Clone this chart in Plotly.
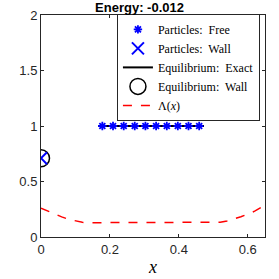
import plotly.graph_objects as go

free_x = [0.178, 0.209, 0.240, 0.272, 0.303, 0.334, 0.365, 0.397, 0.428, 0.459]
free_y = [1, 1, 1, 1, 1, 1, 1, 1, 1, 1]
wall_x = [0.0]
wall_y = [0.71]
eq_x = [0.166, 0.473]
eq_y = [1.0, 1.0]
lam_x = [0, 0.02, 0.04, 0.06, 0.08, 0.10, 0.12, 0.14, 0.20, 0.30, 0.40, 0.50,
         0.52, 0.54, 0.56, 0.58, 0.60, 0.62, 0.64, 0.65]
lam_y = [0.26, 0.232, 0.205, 0.181, 0.160, 0.143, 0.132, 0.129, 0.129, 0.129, 0.129, 0.129,
         0.133, 0.145, 0.162, 0.183, 0.206, 0.233, 0.268, 0.288]
title_text = "Energy: -0.012"

SERIF = "Liberation Serif"
SANS = "Liberation Sans"

fig = go.Figure()
fig.add_trace(go.Scatter(x=eq_x, y=eq_y, mode="lines", line=dict(color="black", width=2),
                         name="Equilibrium:  Exact", legendrank=3))
fig.add_trace(go.Scatter(x=free_x, y=free_y, mode="markers",
                         marker=dict(symbol="asterisk-open", size=7, color="blue",
                                     line=dict(color="blue", width=1.8)),
                         name="Particles:  Free", legendrank=1))
fig.add_trace(go.Scatter(x=wall_x, y=wall_y, mode="markers",
                         marker=dict(symbol="circle-open", size=17, color="black",
                                     line=dict(color="black", width=1.5)),
                         name="Equilibrium:  Wall", legendrank=4))
fig.add_trace(go.Scatter(x=wall_x, y=wall_y, mode="markers",
                         marker=dict(symbol="x-thin-open", size=12, color="blue",
                                     line=dict(color="blue", width=2)),
                         name="Particles:  Wall", legendrank=2))
fig.add_trace(go.Scatter(x=lam_x, y=lam_y, mode="lines",
                         line=dict(color="red", width=1.5, dash="dash"),
                         name="Λ(<i>x</i>)", legendrank=5))

fig.update_layout(
    width=279, height=279,
    margin=dict(l=41, r=14, t=15, b=42),
    plot_bgcolor="white", paper_bgcolor="white",
    title=dict(text="<b>" + title_text + "</b>", x=0.5, xanchor="center",
               y=0.975, yanchor="middle",
               font=dict(family=SANS, size=13, color="black")),
    font=dict(family=SANS, size=13, color="#262626"),
    legend=dict(x=0.339, xanchor="left", y=1.005, yanchor="top",
                bgcolor="white", bordercolor="#262626", borderwidth=1,
                font=dict(family=SERIF, size=12, color="black"),
                tracegroupgap=0, itemwidth=30, traceorder="normal"),
    showlegend=True,
)
fig.update_xaxes(range=[0, 0.65], tickvals=[0, 0.2, 0.4, 0.6], ticktext=["0", "0.2", "0.4", "0.6"],
                 ticks="inside", ticklen=3, tickcolor="#262626", showline=True, linecolor="#262626",
                 linewidth=1, mirror="ticks", showgrid=False, zeroline=False, automargin=False,
                 title=dict(text="<i>x</i>", font=dict(family=SERIF, size=18, color="black"),
                            standoff=4))
fig.update_yaxes(range=[0, 2], tickvals=[0, 0.5, 1, 1.5, 2], ticktext=["0", "0.5", "1", "1.5", "2"],
                 ticks="inside", ticklen=3, tickcolor="#262626", showline=True, linecolor="#262626",
                 linewidth=1, mirror="ticks", showgrid=False, zeroline=False, automargin=False)

fig.write_html("out.html", config={"displayModeBar": False},
               post_script="document.body.style.margin='0';")
